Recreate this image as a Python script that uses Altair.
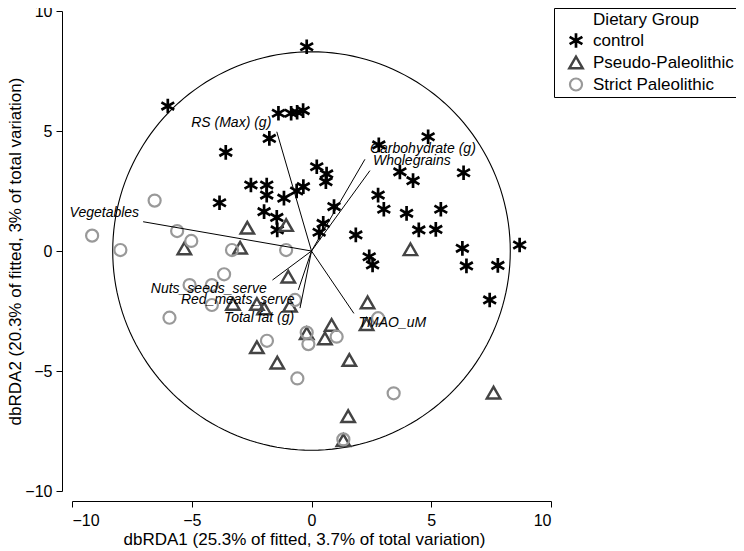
import altair as alt
import pandas as pd
import numpy as np

# ---- data ----
groups = ["control", "Pseudo-Paleolithic", "Strict Paleolithic"]

ctrl_x = [-0.2, -6.0, -1.38, -0.85, -0.6, -0.35, -1.76, -3.58, 0.22, -2.53, -1.87, -1.87,
          -1.15, -0.62, -0.34, -3.84, -1.98, -1.45, -1.43,
          4.87, 2.81, 0.63, 0.6, 3.69, 4.24, 6.35, 2.78, 3.02, 0.94, 3.97, 5.4, 0.49, 0.32,
          1.85, 4.48, 5.19, 6.3, 8.69, 2.41, 2.55, 6.47, 7.78, 7.44]
ctrl_y = [8.51, 6.04, 5.74, 5.74, 5.78, 5.85, 4.69, 4.11, 3.51, 2.75, 2.75, 2.33,
          2.2, 2.5, 2.68, 2.01, 1.64, 1.4, 0.88,
          4.76, 4.42, 3.21, 2.89, 3.3, 2.93, 3.26, 2.33, 1.74, 1.85, 1.57, 1.74, 1.15, 0.78,
          0.67, 0.88, 0.9, 0.11, 0.25, -0.24, -0.58, -0.62, -0.6, -2.04]

pseudo_x = [-2.68, -1.06, -5.31, -2.98, -0.97, -3.28, -2.28, -1.98, -0.9, -0.2, -2.28, -1.43,
            4.13, 2.34, 0.84, 0.56, 2.3, 1.58, 7.6, 1.53, 1.33]
pseudo_y = [0.97, 1.08, 0.11, 0.14, -1.07, -2.21, -2.21, -2.39, -2.28, -3.43, -4.01, -4.65,
            0.07, -2.14, -3.08, -3.64, -3.05, -4.54, -5.9, -6.88, -7.88]

strict_x = [-6.55, -9.16, -7.98, -5.61, -5.02, -3.32, -1.06, -3.65, -5.09, -4.16, -4.16, -5.93,
            -0.69, -1.86, -0.2, -0.13, -0.59, 1.05, 2.78, 3.43, 1.33]
strict_y = [2.1, 0.64, 0.04, 0.83, 0.42, 0.04, 0.04, -0.97, -1.42, -1.42, -2.25, -2.78,
            -2.04, -3.74, -3.4, -3.88, -5.31, -3.57, -2.8, -5.93, -7.85]

var_names = ["RS (Max) (g)", "Vegetables", "Carbohydrate (g)", "Wholegrains",
             "Nuts_seeds_serve", "Red_meats_serve", "Total fat (g)", "TMAO_uM"]
var_x = [-1.45, -7.03, 2.23, 2.44, -1.63, -0.55, -0.48, 1.77]
var_y = [4.97, 1.22, 3.82, 3.35, -1.21, -1.62, -2.38, -2.6]
lab_x = [-3.35, -8.65, 4.65, 4.19, -4.29, -3.08, -2.19, 3.375]
lab_y = [5.33, 1.58, 4.25, 3.76, -1.58, -2.04, -2.78, -3.0]

circle_radius = 8.3
axis_ticks = [-10, -5, 0, 5, 10]

# ---- tables ----
pts = pd.DataFrame({
    "group": [groups[0]] * len(ctrl_x) + [groups[1]] * len(pseudo_x) + [groups[2]] * len(strict_x),
    "x": ctrl_x + pseudo_x + strict_x,
    "y": ctrl_y + pseudo_y + strict_y,
})
vec = pd.DataFrame({"name": var_names, "vx": var_x, "vy": var_y,
                    "lx": lab_x, "ly": lab_y, "ox": [0.0] * len(var_x), "oy": [0.0] * len(var_x)})

FONT = "Liberation Sans"
xscale = alt.Scale(domain=[-10, 10], nice=False, zero=False)
yscale = alt.Scale(domain=[-10, 10], nice=False, zero=False)
common_axis = dict(values=axis_ticks, grid=False, domainColor="black", tickColor="black",
                   tickSize=6, labelFont=FONT, labelFontSize=16, labelColor="black",
                   titleFont=FONT, titleFontSize=17, titleFontWeight="normal", titleColor="black",
                   offset=10, domainWidth=1, tickWidth=1)
X = alt.X("x:Q", scale=xscale,
          axis=alt.Axis(title="dbRDA1 (25.3% of fitted, 3.7% of total variation)",
                        labelPadding=5, titlePadding=3, titleX=232, titleAlign="center",
                        **common_axis))
Y = alt.Y("y:Q", scale=yscale,
          axis=alt.Axis(title="dbRDA2 (20.3% of fitted, 3% of total variation)",
                        labelPadding=4, titlePadding=0, **common_axis))

# circle of equilibrium contribution
circle = alt.Chart(alt.sequence(0, 362, 2, as_="t")).transform_calculate(
    x=f"{circle_radius} * cos(datum.t * PI / 180)",
    y=f"{circle_radius} * sin(datum.t * PI / 180)",
).mark_line(color="black", strokeWidth=1.1).encode(x=X, y=Y, order="t:Q")

ast_path = "M0,-1L0,1M-0.87,-0.5L0.87,0.5M-0.87,0.5L0.87,-0.5"

legend = alt.Legend(title="Dietary Group", orient="none", legendX=482, legendY=-3,
                    padding=4, strokeColor="black", fillColor="white", cornerRadius=0,
                    titleFont=FONT, titleFontSize=17, titleFontWeight="normal", titleColor="black",
                    titleAnchor="middle", titlePadding=3,
                    labelFont=FONT, labelFontSize=17, labelColor="black", labelOffset=8,
                    symbolSize=160, symbolStrokeWidth=2.4, symbolOffset=9, rowPadding=4,
                    clipHeight=17, labelLimit=200)

points = alt.Chart(pts).mark_point(opacity=1, filled=False).encode(
    x=X, y=Y,
    color=alt.Color("group:N", scale=alt.Scale(domain=groups, range=["#000000", "#444444", "#999999"]),
                    legend=legend),
    shape=alt.Shape("group:N", scale=alt.Scale(domain=groups, range=[ast_path, "triangle-up", "circle"]),
                    legend=legend),
    size=alt.Size("group:N", scale=alt.Scale(domain=groups, range=[215, 145, 100]), legend=None),
    strokeWidth=alt.StrokeWidth("group:N", scale=alt.Scale(domain=groups, range=[2.7, 2.2, 2.7]),
                                legend=None),
)

arrows = alt.Chart(vec).mark_rule(color="black", strokeWidth=1).encode(
    x=alt.X("ox:Q", scale=xscale), y=alt.Y("oy:Q", scale=yscale), x2="vx:Q", y2="vy:Q")

labels = alt.Chart(vec).mark_text(font=FONT, fontStyle="italic", fontSize=14, color="black",
                                  align="center", baseline="middle").encode(
    x=alt.X("lx:Q", scale=xscale), y=alt.Y("ly:Q", scale=yscale), text="name:N")

chart = alt.layer(circle, points, arrows, labels).properties(
    width=479, height=480,
    padding={"left": 64, "top": 3, "right": 185, "bottom": 57},
    autosize=alt.AutoSizeParams(type="none"),
).configure_view(stroke=None)

chart.save("out.html", embed_options={"renderer": "svg", "actions": False})
